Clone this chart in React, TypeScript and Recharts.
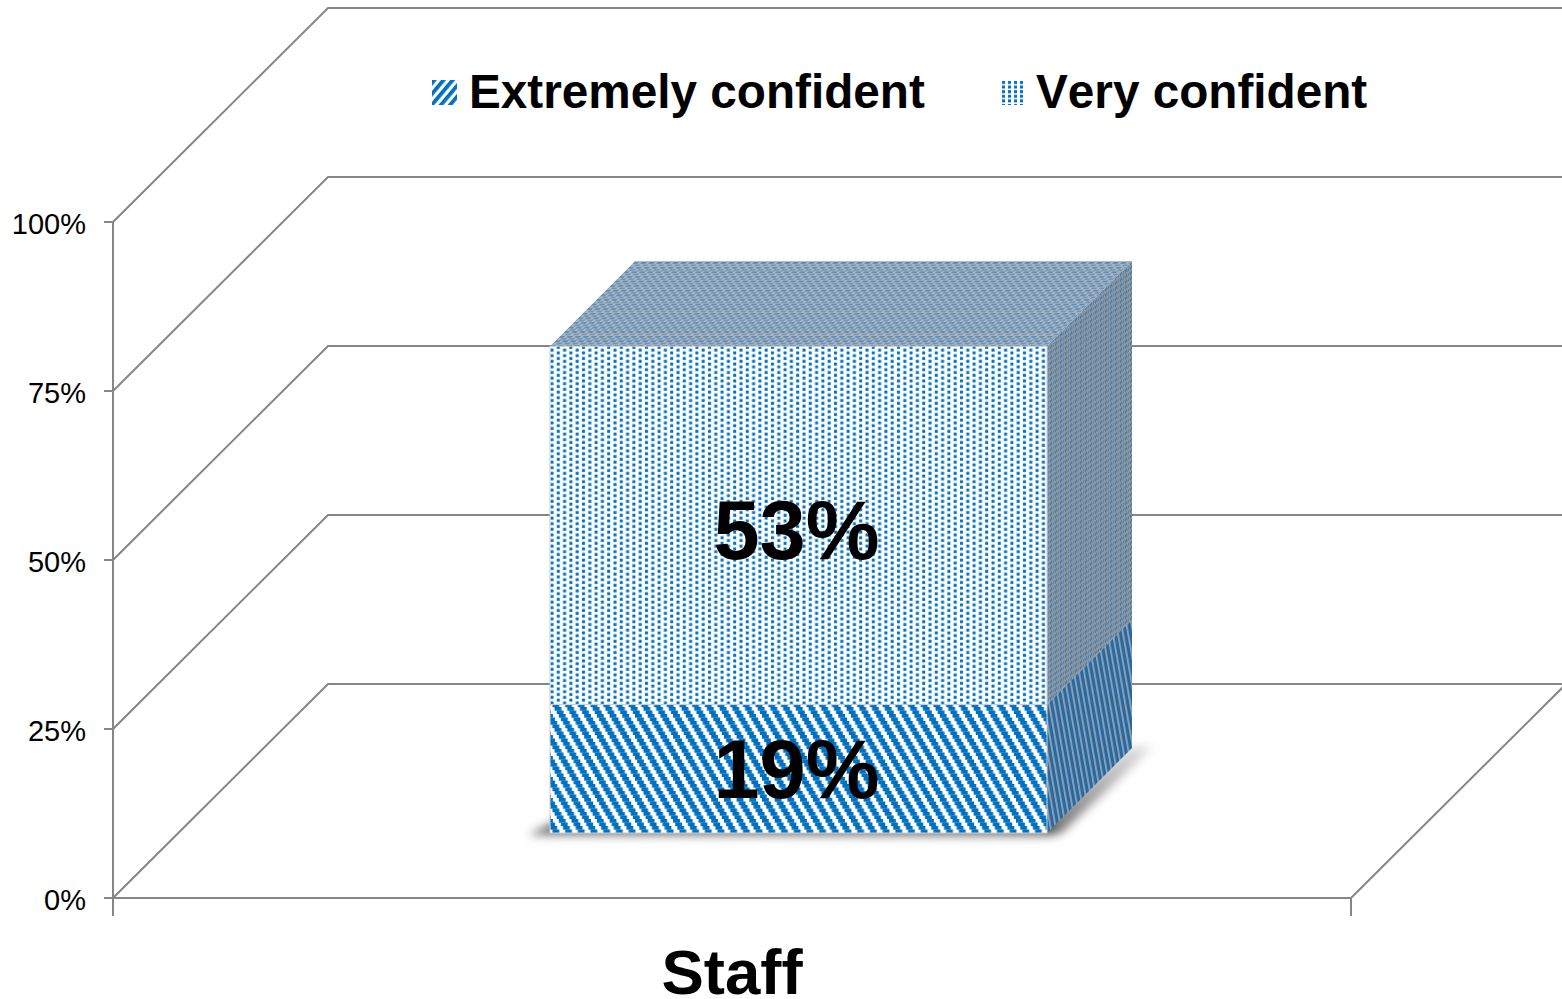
/**
 * Single stacked "3D" column: confidence levels among staff.
 * Recharts has no 3D bars, so the depth faces are drawn in a custom bar shape
 * and the wall lines come from a custom grid line.
 */

import { Bar, BarChart, CartesianGrid, LabelList, Legend, XAxis, YAxis, usePlotArea } from "recharts";

const categories = ["Staff"];
const extremelyConfident = [19];
const veryConfident = [53];
const seriesNames = ["Extremely confident", "Very confident"];
const yTicks = [0, 25, 50, 75, 100];

const data = categories.map((group, i) => ({
  group,
  extreme: extremelyConfident[i],
  very: veryConfident[i],
}));

const WIDTH = 1562;
const HEIGHT = 999;
const AXIS_COLOR = "#868686";
const FONT = "'Liberation Sans', Arial, sans-serif";

// Depth of the walls, of the gap in front of the column and of the column itself.
const WALL_DX = 215;
const WALL_DY = 214;
const GAP_DX = 66;
const GAP_DY = 65;
const BAR_DEPTH = 85;

// The stripes in the original are rasterised, so they step instead of running smooth.
const STRIPE_STEPS = [0, 1, 2, 3, 4, 5];
const STRIPE_W = 12.7;
const STEP_H = 3.5;

function WallLine(props: any) {
  const { x1, x2, y1 } = props;
  return (
    <polyline
      points={`${x1},${y1} ${x1 + WALL_DX},${y1 - WALL_DY} ${x2 + WALL_DX},${y1 - WALL_DY}`}
      fill="none"
      stroke={AXIS_COLOR}
      strokeWidth={2}
    />
  );
}

// Floor edge on the right plus the two outer ticks of the category axis.
function FloorEdges() {
  const plot = usePlotArea();
  if (!plot) return null;
  const right = plot.x + plot.width;
  const bottom = plot.y + plot.height;
  return (
    <g stroke={AXIS_COLOR} strokeWidth={2}>
      <line x1={right} y1={bottom} x2={right + WALL_DX} y2={bottom - WALL_DY} />
      <line x1={plot.x} y1={bottom} x2={plot.x} y2={bottom + 18} />
      <line x1={right} y1={bottom} x2={right} y2={bottom + 18} />
    </g>
  );
}

function Block(props: any) {
  const { x, y, width, height, frontFill, sideFill, showTop, showShadow } = props;
  const fx = x + GAP_DX;
  const fy = y - GAP_DY;
  const fr = fx + width;
  const fb = fy + height;
  return (
    <g>
      {showShadow && (
        <g filter="url(#floorShadow)">
          <polygon
            points={`${fr - 5},${fb - 5} ${fr + BAR_DEPTH},${fb - BAR_DEPTH - 2} ${fr + BAR_DEPTH + 24},${fb - BAR_DEPTH - 2} ${fr + 12},${fb + 2}`}
            fill="url(#shadowFade)"
          />
          <polygon
            points={`${fx - 22},${fb + 2} ${fx + 6},${fb - 12} ${fr + 6},${fb - 12} ${fr + 6},${fb + 3}`}
            fill="#000"
            fillOpacity={0.55}
          />
        </g>
      )}
      <polygon
        points={`${fr},${fy} ${fr + BAR_DEPTH},${fy - BAR_DEPTH} ${fr + BAR_DEPTH},${fb - BAR_DEPTH} ${fr},${fb}`}
        fill={sideFill}
      />
      {showTop && (
        <polygon
          points={`${fx},${fy} ${fx + BAR_DEPTH},${fy - BAR_DEPTH} ${fr + BAR_DEPTH},${fy - BAR_DEPTH} ${fr},${fy}`}
          fill="url(#topFace)"
        />
      )}
      <rect x={fx} y={fy} width={width} height={height} fill={frontFill} stroke="#cfcfcf" strokeWidth={1} />
    </g>
  );
}

function ValueLabel(props: any) {
  const { x, y, width, height, value, nudge } = props;
  return (
    <text
      x={x + GAP_DX + width / 2 - 2}
      y={y - GAP_DY + height / 2 + nudge}
      textAnchor="middle"
      dominantBaseline="central"
      fontFamily={FONT}
      fontWeight={700}
      fontSize={83}
      fill="#000"
    >
      {value}%
    </text>
  );
}

function ConfidenceLegend() {
  const swatches = ["url(#legendStripes)", "url(#legendDots)"];
  return (
    <div style={{ position: "relative", height: 60, fontFamily: FONT, fontWeight: 700, fontSize: 47.7, fontKerning: "none", color: "#000" }}>
      {seriesNames.map((name, i) => (
        <div
          key={name}
          style={{ position: "absolute", left: i === 0 ? 0 : 569, top: 0, display: "flex", alignItems: "center", lineHeight: "60px", whiteSpace: "nowrap" }}
        >
          <svg width={25} height={25} style={{ marginRight: i === 0 ? 12 : 10 }}>
            <rect width={25} height={25} fill={swatches[i]} />
          </svg>
          {name}
        </div>
      ))}
    </div>
  );
}

export default function App() {
  return (
    <div style={{ position: "absolute", left: 0, top: 0, width: WIDTH, height: HEIGHT, background: "#fff" }}>
      <BarChart
        width={WIDTH}
        height={HEIGHT}
        data={data}
        margin={{ top: 222, right: 211, bottom: 0, left: 0 }}
        barSize={497}
      >
        <defs>
          <pattern id="dots" width={12.6} height={5.6} patternUnits="userSpaceOnUse" patternTransform="translate(549 348)">
            <rect width={12.6} height={5.6} fill="#fff" />
            <rect x={1.5} y={0.6} width={3} height={3} fill="#0070c0" />
            <rect x={7.8} y={3.4} width={3} height={3} fill="#0070c0" />
            <rect x={7.8} y={-2.2} width={3} height={3} fill="#0070c0" />
          </pattern>
          <pattern id="stripes" width={STRIPE_W} height={STEP_H * STRIPE_STEPS.length} patternUnits="userSpaceOnUse">
            <rect width={STRIPE_W} height={STEP_H * STRIPE_STEPS.length} fill="#fff" />
            {STRIPE_STEPS.map((s) => {
              const sx = (s * STRIPE_W) / STRIPE_STEPS.length;
              return (
                <g key={s} fill="#0070c0">
                  <rect x={sx} y={s * STEP_H} width={6.8} height={STEP_H + 0.2} />
                  <rect x={sx - STRIPE_W} y={s * STEP_H} width={6.8} height={STEP_H + 0.2} />
                </g>
              );
            })}
          </pattern>
          <pattern id="topFace" width={8} height={4.6} patternUnits="userSpaceOnUse" patternTransform="skewX(-45)">
            <rect width={8} height={4.6} fill="#aab4bd" />
            <rect x={0} y={0} width={5} height={1.8} fill="#5d8cb8" />
            <rect x={4} y={2.3} width={5} height={1.8} fill="#6f96ba" />
            <rect x={-4} y={2.3} width={5} height={1.8} fill="#6f96ba" />
          </pattern>
          <pattern id="sideDots" width={5} height={5.4} patternUnits="userSpaceOnUse" patternTransform="skewY(-60)">
            <rect width={5} height={5.4} fill="#949ca3" />
            <rect x={0} y={0} width={1.9} height={3.4} fill="#4f7ca5" />
            <rect x={2.5} y={2.7} width={1.9} height={3.4} fill="#5d83a6" />
            <rect x={2.5} y={-2.7} width={1.9} height={3.4} fill="#5d83a6" />
          </pattern>
          <pattern id="sideStripes" width={5} height={12} patternUnits="userSpaceOnUse" patternTransform="rotate(-10)">
            <rect width={5} height={12} fill="#2a699f" />
            <rect width={1.8} height={12} fill="#8ea3b6" />
          </pattern>
          <pattern id="legendStripes" width={7} height={7} patternUnits="userSpaceOnUse" patternTransform="rotate(40)">
            <rect width={7} height={7} fill="#fff" />
            <rect width={3.8} height={7} fill="#0070c0" />
          </pattern>
          <pattern id="legendDots" width={6} height={4.6} patternUnits="userSpaceOnUse">
            <rect width={6} height={4.6} fill="#fff" />
            <rect x={1} y={1} width={3} height={3} fill="#0070c0" />
          </pattern>
          <linearGradient id="shadowFade" x1="0" y1="0" x2="1" y2="0">
            <stop offset="0%" stopColor="#000" stopOpacity={0.6} />
            <stop offset="100%" stopColor="#000" stopOpacity={0.05} />
          </linearGradient>
          <filter id="floorShadow" x="-10%" y="-40%" width="120%" height="180%">
            <feGaussianBlur stdDeviation={5} />
          </filter>
        </defs>
        <CartesianGrid vertical={false} horizontal={<WallLine />} />
        <XAxis
          dataKey="group"
          height={101}
          stroke={AXIS_COLOR}
          strokeWidth={2}
          tickLine={false}
          tickMargin={45}
          tick={{ fill: "#000", fontSize: 63.5, fontWeight: 700, fontFamily: FONT }}
        />
        <YAxis
          domain={[0, 100]}
          ticks={yTicks}
          interval={0}
          width={113}
          stroke={AXIS_COLOR}
          strokeWidth={2}
          tickSize={9}
          tickMargin={18}
          tickFormatter={(v: number) => `${v}%`}
          tick={{ fill: "#000", fontSize: 29, fontFamily: FONT, dy: 2 }}
        />
        <FloorEdges />
        <Legend
          layout="vertical"
          align="center"
          verticalAlign="middle"
          content={<ConfidenceLegend />}
          wrapperStyle={{ left: 432, top: 62, width: 1000 }}
        />
        <Bar
          dataKey="extreme"
          name={seriesNames[0]}
          stackId="a"
          fill="url(#stripes)"
          isAnimationActive={false}
          shape={(p: any) => <Block {...p} frontFill="url(#stripes)" sideFill="url(#sideStripes)" showShadow />}
        >
          <LabelList dataKey="extreme" content={<ValueLabel nudge={1} />} />
        </Bar>
        <Bar
          dataKey="very"
          name={seriesNames[1]}
          stackId="a"
          fill="url(#dots)"
          isAnimationActive={false}
          shape={(p: any) => <Block {...p} frontFill="url(#dots)" sideFill="url(#sideDots)" showTop />}
        >
          <LabelList dataKey="very" content={<ValueLabel nudge={5} />} />
        </Bar>
      </BarChart>
    </div>
  );
}
